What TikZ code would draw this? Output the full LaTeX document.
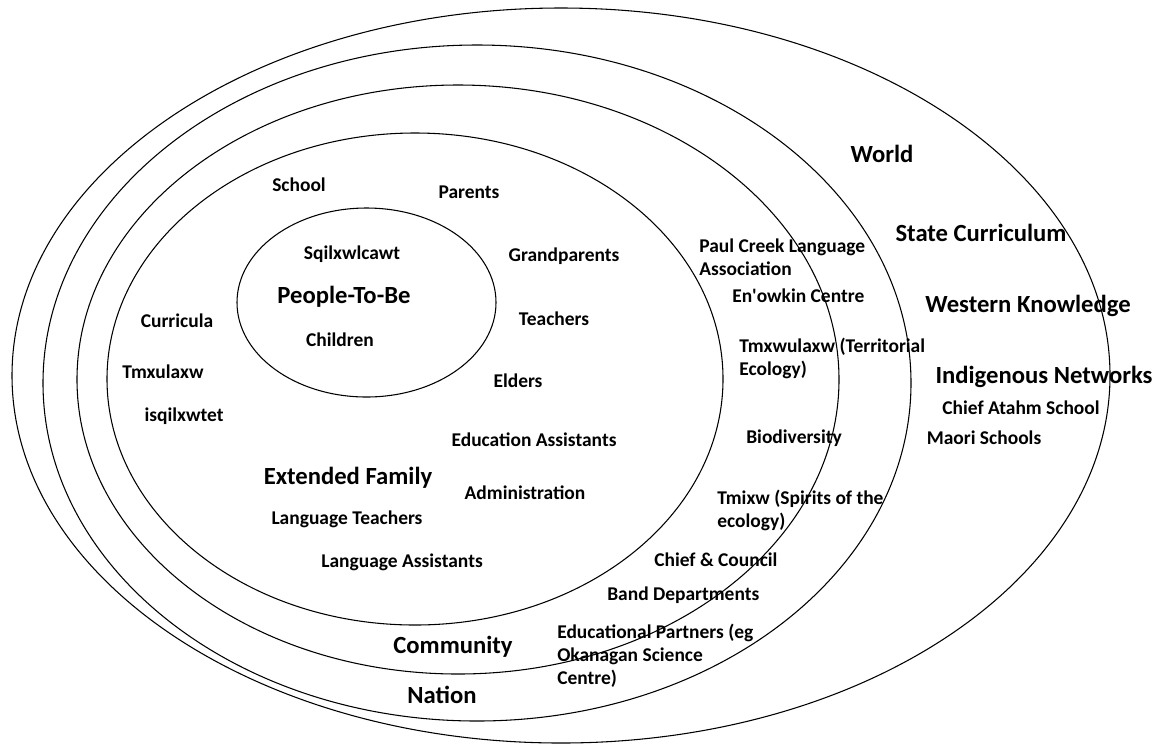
\documentclass[tikz,border=0pt]{standalone}
\usepackage{fontspec}
\setmainfont{Carlito}
\usetikzlibrary{shapes.geometric}

\begin{document}
\begin{tikzpicture}[x=0.75pt, y=-0.75pt,
    ring/.style={draw, ellipse, line width=0.8pt, inner sep=0pt},
    item/.style={inner sep=0pt, font=\fontsize{14.6}{17.25}\selectfont\bfseries},
    head/.style={inner sep=0pt, font=\fontsize{18.5}{22}\selectfont\bfseries},
    multi/.style={item, align=left, anchor=west}]

\useasboundingbox (0,0) rectangle (1162,744);

% rings
\node[ring, minimum width=823.5pt, minimum height=551.25pt] (worldring) at (561,375.5) {};
\node[ring, minimum width=651pt, minimum height=507pt] (nationring) at (477,383) {};
\node[ring, minimum width=571.5pt, minimum height=441.75pt] (commring) at (458,379.5) {};
\node[ring, minimum width=462pt, minimum height=369pt] (familyring) at (415,379) {};
\node[ring, minimum width=194.25pt, minimum height=141.75pt] (childring) at (366.5,302.5) {};

% people-to-be
\node[item] (sqilx) at (352,254) {Sqilxwlcawt};
\node[head] (peopletobe) at (344,297) {People-To-Be};
\node[item] (children) at (340,340) {Children};

% extended family
\node[item] (school) at (299,185) {School};
\node[item] (parents) at (469,192) {Parents};
\node[item] (grandparents) at (564,256) {Grandparents};
\node[item] (teachers) at (554,319) {Teachers};
\node[item] (elders) at (518,381) {Elders};
\node[item] (curricula) at (177,321) {Curricula};
\node[item] (tmxulaxw) at (163,372) {Tmxulaxw};
\node[item] (isqilx) at (184,416) {isqilxwtet};
\node[item] (eduassist) at (534,440) {Education Assistants};
\node[head] (extfamily) at (348,478) {Extended Family};
\node[item] (admin) at (525,493) {Administration};
\node[item] (langteach) at (347,519) {Language Teachers};
\node[item] (langassist) at (402,562) {Language Assistants};

% community
\node[multi] (paulcreek) at (699,257) {Paul Creek Language\\Association};
\node[item, anchor=west] (enowkin) at (732,296) {En\textquotesingle owkin Centre};
\node[multi] (territorial) at (739,358.5) {Tmxwulaxw (Territorial\\Ecology)};
\node[item] (biodiv) at (794,438) {Biodiversity};
\node[multi] (tmixw) at (717,510.5) {Tmixw (Spirits of the\\ecology)};
\node[item, anchor=west] (chief) at (654,560) {Chief \& Council};
\node[item, anchor=west] (band) at (607,595) {Band Departments};
\node[multi] (partners) at (557,656) {Educational Partners (eg\\Okanagan Science\\Centre)};
\node[head] (community) at (453,647) {Community};
\node[head] (nation) at (442,695) {Nation};

% world
\node[head] (world) at (882,154) {World};
\node[head] (statecur) at (981,233) {State Curriculum};
\node[head] (western) at (1028,306) {Western Knowledge};
\node[head] (indigenous) at (1044,377) {Indigenous Networks};
\node[item] (atahm) at (1021,408) {Chief Atahm School};
\node[item] (maori) at (984,438) {Maori Schools};

\end{tikzpicture}
\end{document}
